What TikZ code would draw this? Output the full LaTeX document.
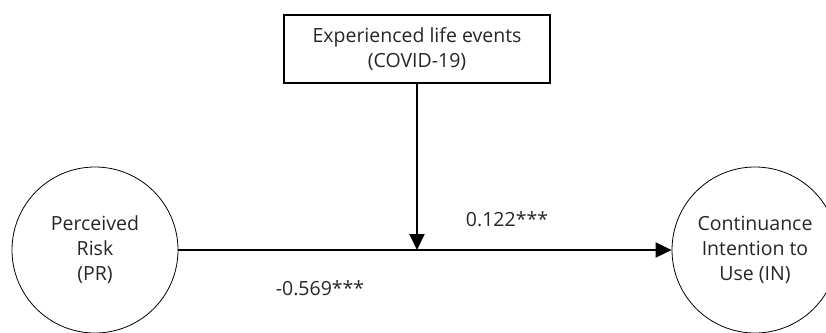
\documentclass[tikz,border=0pt]{standalone}
\usepackage{fontspec}
\setmainfont{Open Sans}
\usetikzlibrary{arrows.meta}
\begin{document}
\begin{tikzpicture}[x=1pt,y=-1pt,
  lbl/.style={font=\fontsize{19.5}{25}\selectfont, text=black!85, align=center},
  construct/.style={circle, draw, line width=0.8pt, minimum size=166pt, inner sep=0pt, lbl},
  modbox/.style={draw, line width=1.6pt, minimum width=266pt, minimum height=68pt, inner sep=0pt, lbl},
  path/.style={line width=2pt, -{Triangle[length=16pt,width=15pt]}}]
\useasboundingbox (0,0) rectangle (826,332);
\clip (0,0) rectangle (826,332);
\node[construct] (pr) at (95,250) {Perceived\\Risk\\(PR)};
\node[construct] (in) at (755,250) {Continuance\\Intention to\\Use (IN)};
\node[modbox] (le) at (417,49) {Experienced life events\\(COVID-19)};
\coordinate (j) at (le.south |- pr.east);
\draw[path] (pr.east) -- (in.west);
\draw[path] (le.south) -- (j);
\node[lbl] (b1) at (507,219) {0.122***};
\node[lbl] (b2) at (320,288) {-0.569***};
\end{tikzpicture}
\end{document}
